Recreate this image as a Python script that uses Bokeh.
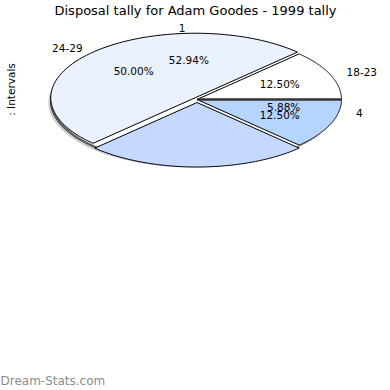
import numpy as np
from bokeh.plotting import figure
from bokeh.models import Range1d
from bokeh.core.properties import value
from bokeh.embed import file_html
from bokeh.resources import INLINE

# ---- data ----
title = "Disposal tally for Adam Goodes - 1999 tally"
axis_label = ": Intervals"
watermark = "Dream-Stats.com"

# series A: age intervals (share of tally, %), slices in drawing order
interval_labels = ["18-23", "24-29", "", ""]
interval_shares = [12.50, 50.00, 25.00, 12.50]
interval_show_pct = [True, True, False, True]
interval_colors = ["#FFFFFF", "#EAF1FF", "#C5D9FF", "#B5D5FF"]
interval_explode = [0, 2.5, 3, 0]

# series B: tally values (share, %) - only the labelled ones are visible
tally_labels = ["1", "4"]
tally_shares = [52.94, 5.88]

# ---- layout ----
W = H = 390
cx, cy, rx, ry = 196.5, 99.0, 144.5, 64.5
FONT = value("DejaVu Sans")

p = figure(width=W, height=H, output_backend="svg", toolbar_location=None,
           x_range=Range1d(0, W), y_range=Range1d(H, 0), min_border=0)
p.axis.visible = False
p.grid.visible = False
p.outline_line_color = None
p.background_fill_color = "white"


def pt(t, r=1.0):
    return cx + rx * r * np.cos(t), cy - ry * r * np.sin(t)

# shadow
tt = np.linspace(0, 2 * np.pi, 200)
sx, sy = pt(tt)
p.patch(sx - 3.5, sy + 3, fill_color="#D0D0D0", line_color="#C0C0C0", line_width=1)
p.patch(sx - 2, sy + 1.5, fill_color="#666666", line_color="#444444", line_width=1)
p.patch(sx, sy, fill_color="white", line_color="white", line_width=1)

# slices of series A
cum = np.cumsum([0] + interval_shares)
for i, s in enumerate(interval_shares):
    a0 = np.deg2rad(cum[i] / 100 * 360)
    a1 = np.deg2rad(cum[i + 1] / 100 * 360)
    mid = (a0 + a1) / 2
    ox = interval_explode[i] * np.cos(mid)
    oy = -interval_explode[i] * np.sin(mid)
    ts = np.linspace(a0, a1, 120)
    ex, ey = pt(ts)
    xs = np.concatenate([[cx], ex, [cx]]) + ox
    ys = np.concatenate([[cy], ey, [cy]]) + oy
    p.patch(xs, ys, fill_color=interval_colors[i], line_color="black", line_width=1)

# dark seam at angle 0 (overlap of both pies' borders)
x0, y0 = pt(0.0)
p.line([cx, x0], [cy, y0], line_color="#333333", line_width=2.5)

def place(label_list, angles, r, pct=False):
    for lab, a in zip(label_list, angles):
        x, y = pt(a, r)
        if pct:
            align = "center"
        else:
            c = np.cos(a)
            align = "left" if c > 0.2 else ("right" if c < -0.2 else "center")
        p.text([x], [y], text=[lab], text_font=FONT, text_font_size="10.5px",
               text_align=align, text_baseline="middle", text_color="black")

# series A labels
midA = [np.deg2rad((cum[i] + cum[i + 1]) / 2 / 100 * 360) for i in range(len(interval_shares))]
place([l for l in interval_labels if l], [m for l, m in zip(interval_labels, midA) if l], 1.12)
place(["%.2f%%" % s for s, show in zip(interval_shares, interval_show_pct) if show],
      [m for m, show in zip(midA, interval_show_pct) if show], 0.62, pct=True)

# series B labels: first slice starts at 0 deg, last slice ends at 360 deg
midB = [np.deg2rad(tally_shares[0] / 2 / 100 * 360),
        np.deg2rad((100 - tally_shares[1] / 2) / 100 * 360)]
place(tally_labels, midB, 1.12)
place(["%.2f%%" % s for s in tally_shares], midB, 0.61, pct=True)

# title, axis label, watermark
p.text([W / 2], [9.5], text=[title], text_font=FONT, text_font_size="13px",
       text_align="center", text_baseline="middle", text_color="black")
p.text([10], [89], text=[axis_label], text_font=FONT, text_font_size="10.5px",
       text_align="center", text_baseline="middle", angle=np.pi / 2, text_color="black")
p.text([0], [380], text=[watermark], text_font=FONT, text_font_size="12px",
       text_align="left", text_baseline="middle", text_color="#8C8C8C")

open("out.html", "w").write(file_html(p, INLINE))
